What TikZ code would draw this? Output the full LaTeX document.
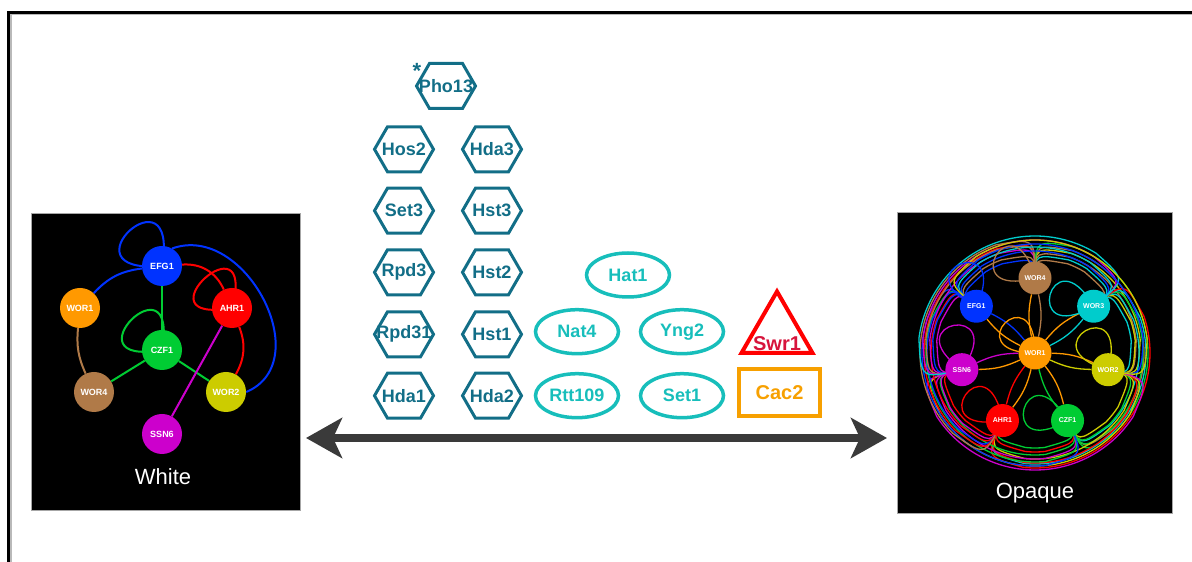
\documentclass[tikz,border=0pt]{standalone}
\usepackage{fontspec}
\setmainfont{Liberation Sans}
\usetikzlibrary{shapes.symbols,shapes.geometric,arrows.meta,backgrounds}
\definecolor{hexc}{RGB}{18,110,135}
\definecolor{elc}{RGB}{23,190,187}
\definecolor{swrc}{RGB}{255,0,0}
\definecolor{swrt}{RGB}{215,20,60}
\definecolor{cacc}{RGB}{247,160,0}
\definecolor{arrc}{RGB}{58,58,58}
\definecolor{cBlue}{RGB}{0,51,255}
\definecolor{cOrange}{RGB}{255,153,0}
\definecolor{cRed}{RGB}{255,0,0}
\definecolor{cGreen}{RGB}{0,204,51}
\definecolor{cBrown}{RGB}{176,122,72}
\definecolor{cYellow}{RGB}{204,204,0}
\definecolor{cMag}{RGB}{204,0,204}
\definecolor{cCyan}{RGB}{0,204,204}
\colorlet{c0}{cBrown}
\colorlet{c1}{cCyan}
\colorlet{c2}{cYellow}
\colorlet{c3}{cGreen}
\colorlet{c4}{cRed}
\colorlet{c5}{cMag}
\colorlet{c6}{cBlue}
\tikzset{
  hexa/.style={signal, signal to=west and east, signal pointer angle=120, draw=hexc, line width=3pt, minimum width=59pt, minimum height=45pt, inner sep=0pt},
  hexlab/.style={text=hexc, font=\bfseries\fontsize{18}{18}\selectfont, inner sep=0pt},
  ell/.style={ellipse, draw=elc, line width=3.5pt, minimum width=83pt, minimum height=44pt, inner sep=0pt, text=elc, font=\bfseries\fontsize{18}{18}\selectfont},
  wn/.style={circle, minimum size=40pt, inner sep=0pt, text=white, font=\bfseries\fontsize{9}{9}\selectfont},
  on/.style={circle, minimum size=33pt, inner sep=0pt, text=white, font=\bfseries\fontsize{7}{7}\selectfont},
  panellab/.style={text=white, font=\fontsize{22}{22}\selectfont, inner sep=0pt},
  bigtip/.tip={Stealth[length=36pt,width=40pt,inset=9pt]}
}
\begin{document}
\begin{tikzpicture}[x=1pt,y=1pt]
\useasboundingbox (0,0) rectangle (1192,562);
% frame
\draw[gray!55, line width=2pt] (10.5,0) -- (10.5,547.5) -- (1192,547.5);
\draw[black, line width=3pt] (8.7,0) -- (8.7,549.5) -- (1192,549.5);

% ---------- white network nodes ----------
\node[wn, fill=cBlue] (wefg) at (162,296) {EFG1};
\node[wn, fill=cOrange] (wwor1) at (80,254) {WOR1};
\node[wn, fill=cRed] (wahr) at (232,254) {AHR1};
\node[wn, fill=cGreen] (wczf) at (162,212) {CZF1};
\node[wn, fill=cBrown] (wwor4) at (94,170) {WOR4};
\node[wn, fill=cYellow] (wwor2) at (226,170) {WOR2};
\node[wn, fill=cMag] (wssn) at (162,128) {SSN6};
\node[panellab] (whitelab) at (163,85) {White};

% ---------- opaque network nodes ----------
\begin{scope}[shift={(1035,209)}]
\foreach \i/\lab in {0/WOR4,1/WOR3,2/WOR2,3/CZF1,4/AHR1,5/SSN6,6/EFG1}{
  \node[on, fill=c\i] (o\i) at ({90-51.4286*\i}:75) {\lab};
}
\node[on, fill=cOrange] (ow1) at (0,0) {WOR1};
\end{scope}
\node[panellab] (opaquelab) at (1035,69) {Opaque};

\begin{scope}[on background layer]
\fill[black] (31,52) rectangle (300,349);
\draw[gray!70, line width=0.8pt] (31,52) rectangle (300,349);
\fill[black] (897,49) rectangle (1172,350);
\draw[gray!70, line width=0.8pt] (897,49) rectangle (1172,350);
% white network edges
\begin{scope}[line width=2pt]
\draw[cBlue] (wefg.center) .. controls +(80:105) and +(185:105) .. (wefg.center);
\draw[cBlue] (wwor1) to[bend left=20] (wefg);
\draw[cGreen] (wefg) -- (wczf);
\draw[cRed] (wefg) to[bend left=35] (wahr);
\draw[cRed] (wahr.center) .. controls +(75:100) and +(190:100) .. (wahr.center);
\draw[cRed] (wahr) to[bend left=25] (wwor2);
\draw[cBlue] (wefg.60) .. controls (245,340) and (318,200) .. (wwor2.east);
\draw[cGreen] (wczf.center) .. controls +(80:100) and +(190:100) .. (wczf.center);
\draw[cGreen] (wczf) -- (wwor4);
\draw[cGreen] (wczf) -- (wwor2);
\draw[cBrown] (wwor1) to[bend right=15] (wwor4);
\draw[cMag] (wahr) -- (wssn);
\end{scope}
% opaque network edges
\begin{scope}[shift={(1035,209)}, line width=1.3pt]
\foreach \i in {0,...,6}{
  \foreach \k in {1,2,3}{
    \pgfmathtruncatemacro{\jj}{mod(\i+\k,7)}
    \pgfmathsetmacro{\angA}{90-51.4286*\i}
    \pgfmathsetmacro{\angB}{\angA-51.4286*\k}
    \pgfmathsetmacro{\angAs}{\angA-20}
    \pgfmathsetmacro{\angBs}{\angB+20}
    \pgfmathsetmacro{\Ra}{88+7*\k+2*mod(\i,3)}
    \pgfmathsetmacro{\Rb}{\Ra+4}
    \draw[draw=c\i] (o\i.center) .. controls (\angA:\Ra) .. (\angAs:\Ra) arc[start angle=\angAs, end angle=\angBs, radius=\Ra] .. controls (\angB:\Ra) .. (o\jj.center);
    \draw[draw=c\jj] (o\i.center) .. controls (\angA:\Rb) .. (\angAs:\Rb) arc[start angle=\angAs, end angle=\angBs, radius=\Rb] .. controls (\angB:\Rb) .. (o\jj.center);
  }
  \draw[cOrange] (ow1) to[bend left=12] (o\i);
  \draw[draw=c\i] (ow1) to[bend right=12] (o\i);
}
\foreach \i/\th in {0/150,1/165,2/120,3/165,4/145,5/100,6/110}{
  \draw[draw=c\i] (o\i.center) .. controls +(\th-45:85) and +(\th+45:85) .. (o\i.center);
}
\draw[cOrange] (ow1.center) .. controls +(90:80) and +(180:80) .. (ow1.center);
\end{scope}
\end{scope}

% ---------- hexagons ----------
\node[hexa] (pho13) at (446,476) {};
\node[hexlab] (pho13t) at (pho13) {Pho13};
\node[text=hexc, font=\bfseries\fontsize{22}{22}\selectfont, inner sep=0pt] (ast) at (417,491) {*};
\foreach \nm/\lab/\xx/\yy in {hos2/Hos2/404/412.7, set3/Set3/404/351.3, rpd3/Rpd3/404/289.7, rpd31/Rpd31/404/227.7, hda1/Hda1/404/166.3,
  hda3/Hda3/492/412.7, hst3/Hst3/492/351.3, hst2/Hst2/492/289.7, hst1/Hst1/492/227.7, hda2/Hda2/492/166.3}{
  \node[hexa] (\nm) at (\xx,\yy) {};
  \node[hexlab] (\nm t) at (\nm) {\lab};
}

% ---------- ellipses ----------
\node[ell] (hat1) at (628,287) {Hat1};
\node[ell] (nat4) at (577,230.3) {Nat4};
\node[ell] (yng2) at (682,230.3) {Yng2};
\node[ell] (rtt109) at (577,166.3) {Rtt109};
\node[ell] (set1) at (682,166.3) {Set1};

% ---------- Swr1 / Cac2 ----------
\node[regular polygon, regular polygon sides=3, minimum size=82pt, inner sep=0pt, draw=swrc, line width=4pt] (swr1tri) at (777,229.5) {};
\node[text=swrt, font=\bfseries\fontsize{20}{20}\selectfont, inner sep=0pt] (swr1) at (777,218.7) {Swr1};
\node[rectangle, draw=cacc, line width=4pt, minimum width=81pt, minimum height=47pt, inner sep=0pt, text=cacc, font=\bfseries\fontsize{20}{20}\selectfont] (cac2) at (779.5,169.5) {Cac2};

% ---------- arrow ----------
\coordinate (al) at (306,124);
\coordinate (ar) at (887,124);
\draw[arrc, line width=8.5pt, {bigtip}-{bigtip}] (al) -- (ar);
\end{tikzpicture}
\end{document}
